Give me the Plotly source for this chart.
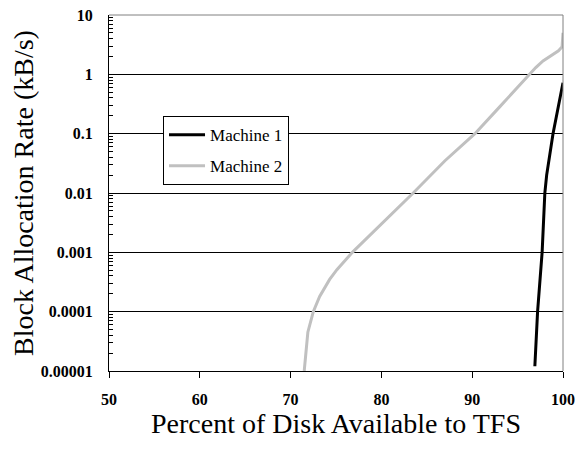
import plotly.graph_objects as go

# Machine 1 (black) : percent available vs block allocation rate (kB/s)
m1_x = [96.9, 97.2, 97.7, 98.0, 98.2, 98.9, 100.0]
m1_y = [1.2e-5, 1e-4, 1e-3, 1e-2, 2e-2, 1e-1, 0.72]

# Machine 2 (gray)
m2_x = [71.5, 71.6, 71.9, 72.5, 73.2, 74.3, 75.1, 76.8, 80.0, 83.5, 87.0, 90.3,
        93.0, 96.3, 97.0, 97.8, 98.6, 99.5, 99.9, 100.0]
m2_y = [1e-5, 1.6e-5, 4.5e-5, 1e-4, 1.8e-4, 3.5e-4, 5.1e-4, 1e-3, 3e-3, 1e-2, 3.5e-2, 1e-1,
        2.8e-1, 1.0, 1.3, 1.68, 2.0, 2.5, 2.9, 5.0]

y_tickvals = [1e-5, 1e-4, 1e-3, 1e-2, 1e-1, 1, 10]
y_ticktext = ["0.00001", "0.0001", "0.001", "0.01", "0.1", "1", "10"]
x_tickvals = [50, 60, 70, 80, 90, 100]

serif = "Liberation Serif, Times New Roman, serif"

fig = go.Figure()
fig.add_trace(go.Scatter(x=m1_x, y=m1_y, mode="lines", name="Machine 1",
                         line=dict(color="black", width=3), legendgroup="a"))
fig.add_trace(go.Scatter(x=m2_x, y=m2_y, mode="lines", name="Machine 2",
                         line=dict(color="#c0c0c0", width=3), legendgroup="b"))

# page body has an 8px margin, so the figure is offset by 8px
fig.update_layout(
    width=579, height=441,
    margin=dict(l=101, r=24, t=7, b=78, autoexpand=False),
    paper_bgcolor="white", plot_bgcolor="white",
    showlegend=True,
    legend=dict(x=0.119, y=0.716, xanchor="left", yanchor="top",
                bgcolor="white", bordercolor="black", borderwidth=1,
                font=dict(family=serif, size=17, color="black"),
                tracegroupgap=6, traceorder="grouped",
                itemwidth=36),
    font=dict(family=serif, color="black"),
)

fig.update_xaxes(
    range=[50, 100], tickvals=x_tickvals, showgrid=False, zeroline=False,
    showline=True, linecolor="black", linewidth=1, automargin=False,
    ticks="outside", ticklen=6, tickcolor="black", ticklabelstandoff=8,
    ticklabeloverflow="allow",
    tickfont=dict(family=serif, size=16, weight="bold", color="black"),
    title=dict(text="Percent of Disk Available to TFS",
               font=dict(family=serif, size=28, color="black"), standoff=4),
)
fig.update_yaxes(
    type="log", range=[-5, 1], tickvals=y_tickvals, ticktext=y_ticktext,
    showgrid=True, gridcolor="black", gridwidth=1, zeroline=False,
    showline=True, linecolor="black", linewidth=1, automargin=False,
    ticks="inside", ticklen=4, tickcolor="black", ticklabelstandoff=12,
    ticklabeloverflow="allow",
    minor=dict(ticks="inside", ticklen=4, tickcolor="black", dtick="D1", showgrid=False),
    tickfont=dict(family=serif, size=16, weight="bold", color="black"),
    title=dict(text="Block Allocation Rate (kB/s)",
               font=dict(family=serif, size=28, color="black"), standoff=12),
)

# gray top and right frame lines
fig.add_shape(type="line", xref="paper", yref="paper", x0=0, x1=1, y0=1, y1=1,
              line=dict(color="#808080", width=1), layer="above")
fig.add_shape(type="line", xref="paper", yref="paper", x0=1, x1=1, y0=0, y1=1,
              line=dict(color="#808080", width=1), layer="above")

fig.write_html("out.html")
